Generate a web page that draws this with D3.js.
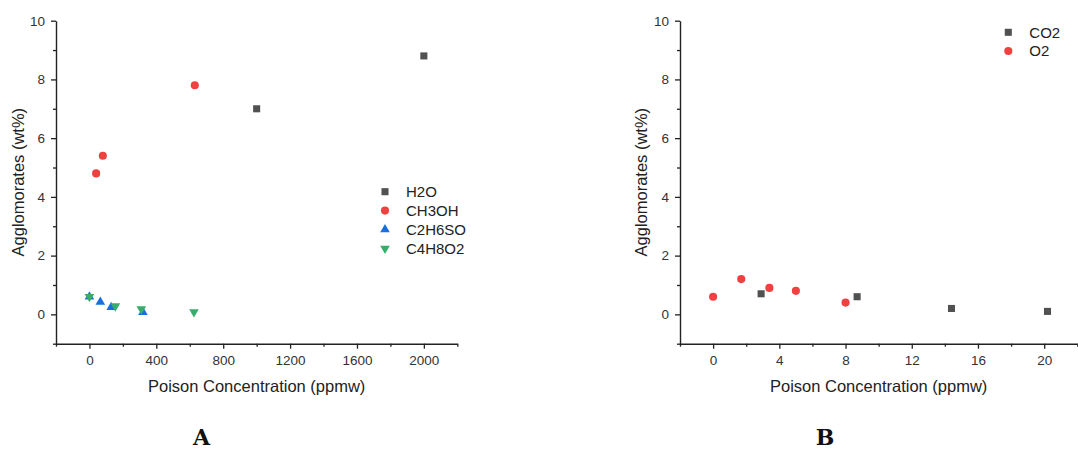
<!DOCTYPE html>
<html>
<head>
<meta charset="utf-8">
<script src="https://cdn.jsdelivr.net/npm/d3@7"></script>
<style>
  html, body { margin: 0; padding: 0; background: #fff; }
  svg { display: block; }
  text { font-family: "Liberation Sans", Arial, sans-serif; fill: #222; }
</style>
</head>
<body>
<svg id="chart" width="1078" height="449"></svg>
<script>
// Panel A: agglomerates vs. concentration of liquid-phase poisons
const h2oX = [1000, 2000];
const h2oY = [7.0, 8.8];
const ch3ohX = [40, 80, 630];
const ch3ohY = [4.8, 5.4, 7.8];
const c2h6soX = [0, 65, 130, 320];
const c2h6soY = [0.6, 0.42, 0.24, 0.07];
const c4h8o2X = [0, 155, 310, 625];
const c4h8o2Y = [0.6, 0.28, 0.18, 0.08];

// Panel B: agglomerates vs. concentration of gas-phase poisons
const co2X = [2.9, 8.7, 14.4, 20.2];
const co2Y = [0.7, 0.6, 0.2, 0.1];
const o2X = [0, 1.7, 3.4, 5, 8];
const o2Y = [0.6, 1.2, 0.9, 0.8, 0.4];

// Axis ticks
const yMajor = [0, 2, 4, 6, 8, 10];
const yMinor = [-1, 1, 3, 5, 7, 9];
const xMajorA = [0, 400, 800, 1200, 1600, 2000];
const xMinorA = [-200, 200, 600, 1000, 1400, 1800, 2200];
const xMajorB = [0, 4, 8, 12, 16, 20];
const xMinorB = [-2, 2, 6, 10, 14, 18, 22];

const COLORS = { gray: "#515151", red: "#F14040", blue: "#1A6FDF", green: "#37AD6B" };

const svg = d3.select("#chart");

function zip(xs, ys) { return xs.map((x, i) => ({ x, y: ys[i] })); }

const symbolFor = {
  square: d3.symbol().type(d3.symbolSquare).size(50),
  circle: d3.symbol().type(d3.symbolCircle).size(52),
  up: d3.symbol().type(d3.symbolTriangle).size(40),
  down: d3.symbol().type(d3.symbolTriangle).size(40)
};

function drawMarker(sel, shape, color) {
  sel.append("path")
    .attr("d", symbolFor[shape]())
    .attr("fill", color)
    .attr("transform", shape === "down" ? "rotate(180)" : null);
}

function panel(opts) {
  const g = svg.append("g");
  const x = d3.scaleLinear().domain(opts.xDomain).range([opts.left, opts.right]);
  const y = d3.scaleLinear().domain([-1, 10]).range([343.7, 20.7]);

  // minor ticks
  g.append("g").attr("transform", `translate(0,${y(-1)})`)
    .call(d3.axisBottom(x).tickValues(opts.xMinor).tickSize(3).tickFormat(""))
    .call(a => a.select(".domain").remove());
  g.append("g").attr("transform", `translate(${x(opts.xDomain[0])},0)`)
    .call(d3.axisLeft(y).tickValues(yMinor).tickSize(3).tickFormat(""))
    .call(a => a.select(".domain").remove());

  // major axes
  const xa = g.append("g").attr("transform", `translate(0,${y(-1)})`)
    .call(d3.axisBottom(x).tickValues(opts.xMajor).tickSize(5).tickSizeOuter(0).tickPadding(7).tickFormat(d3.format("d")));
  const ya = g.append("g").attr("transform", `translate(${x(opts.xDomain[0])},0)`)
    .call(d3.axisLeft(y).tickValues(yMajor).tickSize(5).tickSizeOuter(0).tickPadding(6).tickFormat(d3.format("d")));

  [xa, ya].forEach(a => {
    a.select(".domain").attr("stroke", "#222").attr("stroke-width", 1.4);
    a.selectAll("text").style("font-size", "13.5px").style("fill", "#333");
  });
  g.selectAll(".tick line").attr("stroke", "#222").attr("stroke-width", 1.3);

  // axis titles
  g.append("text")
    .attr("x", (opts.left + opts.right) / 2).attr("y", 392)
    .attr("text-anchor", "middle").style("font-size", "16.5px")
    .text("Poison Concentration (ppmw)");
  g.append("text")
    .attr("transform", `translate(${opts.yTitleX},${(y(-1) + y(10)) / 2}) rotate(-90)`)
    .attr("text-anchor", "middle").attr("dy", "0.35em").style("font-size", "16.5px")
    .text("Agglomorates (wt%)");

  // data
  opts.series.forEach(s => {
    g.append("g").selectAll("g").data(zip(s.xs, s.ys)).join("g")
      .attr("transform", d => `translate(${x(d.x)},${y(d.y)})`)
      .each(function () { drawMarker(d3.select(this), s.shape, s.color); });
  });

  // legend
  const lg = g.append("g");
  opts.series.forEach((s, i) => {
    const row = lg.append("g")
      .attr("transform", `translate(${opts.legendX},${opts.legendY + i * opts.legendStep})`);
    drawMarker(row.append("g"), s.shape, s.color);
    row.append("text").attr("x", 21).attr("dy", "0.36em")
      .style("font-size", "15px").text(s.name);
  });

  // panel letter
  svg.append("text")
    .attr("x", opts.letterX).attr("y", 445)
    .attr("text-anchor", "middle")
    .style("font-family", "'DejaVu Serif', serif").style("font-weight", "bold")
    .style("font-size", "22px").style("fill", "#111")
    .text(opts.letter);
}

panel({
  letter: "A", letterX: 201.5,
  xDomain: [-200, 2200], left: 56, right: 457.3,
  xMajor: xMajorA, xMinor: xMinorA, yTitleX: 18,
  legendX: 385, legendY: 191.7, legendStep: 18.9,
  series: [
    { name: "H2O", xs: h2oX, ys: h2oY, shape: "square", color: COLORS.gray },
    { name: "CH3OH", xs: ch3ohX, ys: ch3ohY, shape: "circle", color: COLORS.red },
    { name: "C2H6SO", xs: c2h6soX, ys: c2h6soY, shape: "up", color: COLORS.blue },
    { name: "C4H8O2", xs: c4h8o2X, ys: c4h8o2Y, shape: "down", color: COLORS.green }
  ]
});

panel({
  letter: "B", letterX: 825,
  xDomain: [-2, 22], left: 680, right: 1077.3,
  xMajor: xMajorB, xMinor: xMinorB, yTitleX: 641.7,
  legendX: 1008.3, legendY: 32.3, legendStep: 18.7,
  series: [
    { name: "CO2", xs: co2X, ys: co2Y, shape: "square", color: COLORS.gray },
    { name: "O2", xs: o2X, ys: o2Y, shape: "circle", color: COLORS.red }
  ]
});
</script>
</body>
</html>
